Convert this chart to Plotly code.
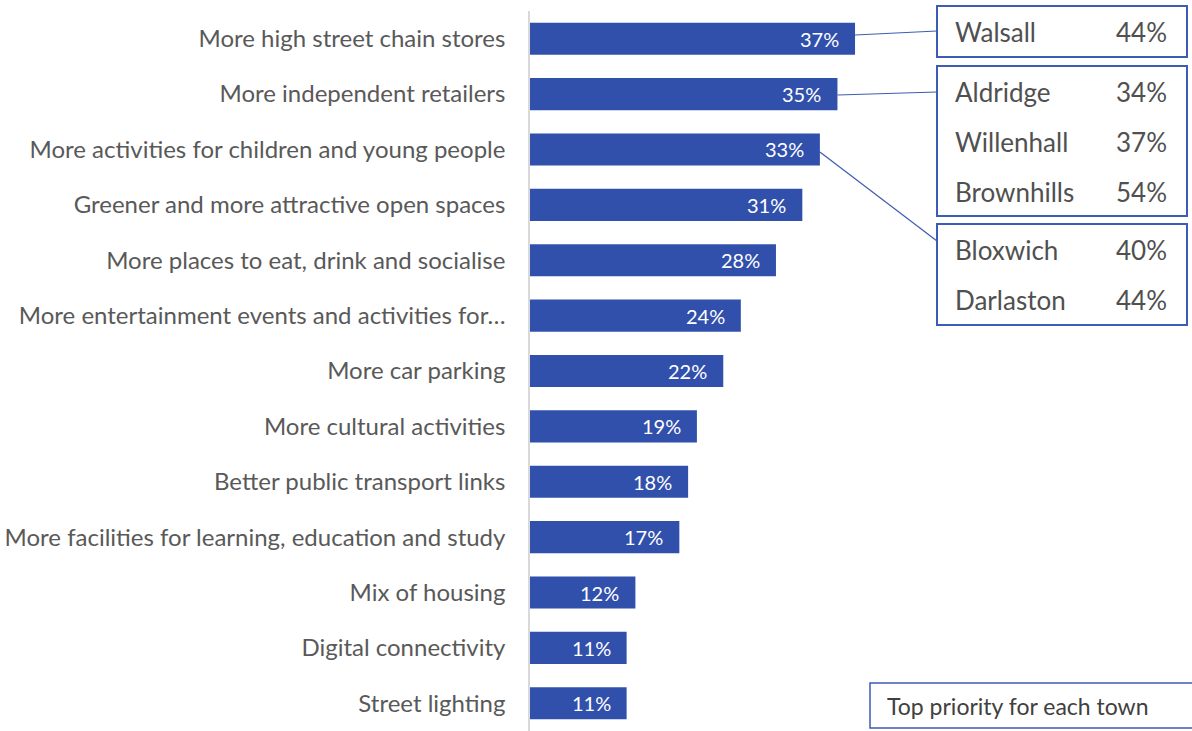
import plotly.graph_objects as go

categories = [
    'More high street chain stores',
    'More independent retailers',
    'More activities for children and young people',
    'Greener and more attractive open spaces',
    'More places to eat, drink and socialise',
    'More entertainment events and activities for…',
    'More car parking',
    'More cultural activities',
    'Better public transport links',
    'More facilities for learning, education and study',
    'Mix of housing',
    'Digital connectivity',
    'Street lighting',
]
values = [37, 35, 33, 31, 28, 24, 22, 19, 18, 17, 12, 11, 11]

town_groups = [
    [('Walsall', 44)],
    [('Aldridge', 34), ('Willenhall', 37), ('Brownhills', 54)],
    [('Bloxwich', 40), ('Darlaston', 44)],
]
legend_note = 'Top priority for each town'

W, H = 1192, 731
L, T = 530, 11
PW, PH = W - L, H - T
XMAX = 75.36
FONT = 'Lato, Open Sans, sans-serif'
BAR = '#3150ab'
EDGE = '#3d5cb3'


def px(x):
    return (x - L) / PW


def py(y):
    return (H - y) / PH


fig = go.Figure()
fig.add_trace(go.Bar(
    x=values, y=categories, orientation='h',
    marker=dict(color=BAR, line=dict(width=0)),
    hoverinfo='skip',
))

annotations = []
for cat, v in zip(categories, values):
    annotations.append(dict(
        x=v, y=cat, xref='x', yref='y', text=f'{v}%', showarrow=False,
        xanchor='right', yanchor='middle', xshift=-14,
        font=dict(color='white', size=20, family=FONT),
    ))

shapes = []
# town boxes (pixel positions converted to paper coords)
boxes = [(6, 57), (66, 216), (224, 325)]
row_y = [[32], [92, 142, 192], [250, 300]]
for (y0, y1), group, ys in zip(boxes, town_groups, row_y):
    shapes.append(dict(type='rect', xref='paper', yref='paper',
                       x0=px(937), x1=px(1187), y0=py(y1), y1=py(y0),
                       line=dict(color=EDGE, width=2), fillcolor='white'))
    for (town, pct), yy in zip(group, ys):
        annotations.append(dict(x=px(953), y=py(yy), xref='paper', yref='paper',
                                text=town, showarrow=False, xanchor='left', yanchor='middle',
                                font=dict(size=26, color='#505050', family=FONT)))
        annotations.append(dict(x=px(1169), y=py(yy), xref='paper', yref='paper',
                                text=f'{pct}%', showarrow=False, xanchor='right', yanchor='middle',
                                font=dict(size=26, color='#505050', family=FONT)))

# connector lines from bar ends to boxes
connectors = [(values[0], 35, 31), (values[1], 95, 92), (values[2], 152, 241)]
for v, ya, yb in connectors:
    shapes.append(dict(type='line', xref='x', yref='paper',
                       x0=v, y0=py(ya), x1=px(937) * XMAX, y1=py(yb),
                       line=dict(color=EDGE, width=1.2)))

# note box
shapes.append(dict(type='rect', xref='paper', yref='paper',
                   x0=px(870), x1=px(1200), y0=py(728), y1=py(683),
                   line=dict(color=EDGE, width=1.5), fillcolor='white'))
annotations.append(dict(x=px(885), y=py(706), xref='paper', yref='paper',
                        text=legend_note, showarrow=False, xanchor='left', yanchor='middle',
                        font=dict(size=23, color='#404040', family=FONT)))

fig.update_layout(
    width=W, height=H,
    margin=dict(l=L, r=0, t=T, b=0, pad=0),
    plot_bgcolor='white', paper_bgcolor='white',
    bargap=0.42, showlegend=False,
    shapes=shapes, annotations=annotations,
    font=dict(family=FONT),
)
fig.update_xaxes(range=[0, XMAX], visible=False, fixedrange=True)
fig.update_yaxes(
    autorange='reversed', showline=True, linecolor='#d9d9d9', linewidth=1.5,
    showgrid=False, ticks='', ticklabelstandoff=18, fixedrange=True,
    tickfont=dict(size=24, color='#595959', family=FONT),
)

fig.write_html('out.html', config={'displayModeBar': False},
               post_script="document.body.style.margin='0';")
